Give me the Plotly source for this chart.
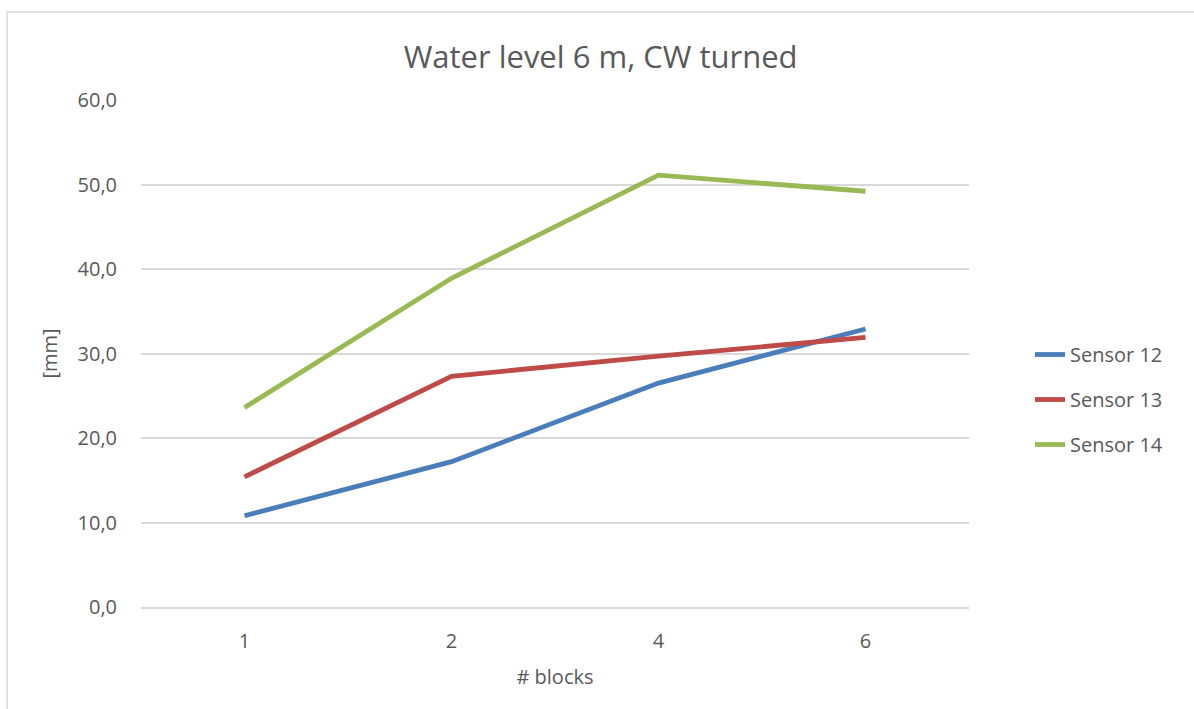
import plotly.graph_objects as go

# Number of blocks (category axis)
blocks = ["1", "2", "4", "6"]

# Measured water level response per sensor [mm]
sensor_12 = [10.8, 17.2, 26.5, 32.9]
sensor_13 = [15.4, 27.3, 29.7, 31.9]
sensor_14 = [23.6, 38.9, 51.1, 49.2]

series_names = ["Sensor 12", "Sensor 13", "Sensor 14"]
series_colors = ["#4A7EBB", "#BE4B48", "#98B954"]

W, H = 1194, 709
L, R, T, B = 141, 969, 100, 607
TEXT = "#595959"
GRID = "#D9D9D9"
FONT = "Open Sans"


def px_x(px):
    return (px - L) / (R - L)


def px_y(py):
    return (B - py) / (B - T)


fig = go.Figure()
for i, (name, vals, col) in enumerate(zip(series_names, [sensor_12, sensor_13, sensor_14], series_colors)):
    fig.add_trace(go.Scatter(
        x=blocks, y=vals, name=name, mode="lines",
        line=dict(color=col, width=4.8),
        legendgroup=f"g{i}",
    ))

fig.update_layout(
    width=W, height=H,
    margin=dict(l=L, r=W - R, t=T, b=H - B, pad=0),
    paper_bgcolor="white", plot_bgcolor="white",
    font=dict(family=FONT, color=TEXT, size=20),
    separators=", ",
    title=dict(text="Water level 6 m, CW turned", x=0.503, xanchor="center",
               y=1 - 57 / H, yanchor="middle",
               font=dict(size=31, color=TEXT, family=FONT)),
    showlegend=True,
    legend=dict(x=px_x(1030), xanchor="left", y=px_y(335), yanchor="top",
                font=dict(size=20, color=TEXT), tracegroupgap=16,
                bgcolor="rgba(0,0,0,0)", itemwidth=30),
    xaxis=dict(type="category", range=[-0.5, len(blocks) - 0.5],
               showgrid=False, zeroline=False,
               showline=True, linecolor=GRID, linewidth=1.5,
               ticks="", ticklabelstandoff=15,
               title=dict(text="# blocks", standoff=17, font=dict(size=20, color=TEXT)),
               tickfont=dict(size=20, color=TEXT)),
    yaxis=dict(range=[0, 60], dtick=10, tickformat=".1f",
               showgrid=True, gridcolor=GRID, gridwidth=1.5,
               zeroline=False, showline=False, ticks="",
               ticklabelstandoff=23,
               title=dict(text="[mm]", standoff=14, font=dict(size=20, color=TEXT)),
               tickfont=dict(size=20, color=TEXT)),
    shapes=[dict(type="rect", xref="paper", yref="paper",
                 x0=px_x(7), x1=px_x(1210), y0=px_y(725), y1=px_y(12),
                 line=dict(color=GRID, width=1.5), fillcolor="rgba(0,0,0,0)",
                 layer="below")],
)

fig.write_html("out.html")
